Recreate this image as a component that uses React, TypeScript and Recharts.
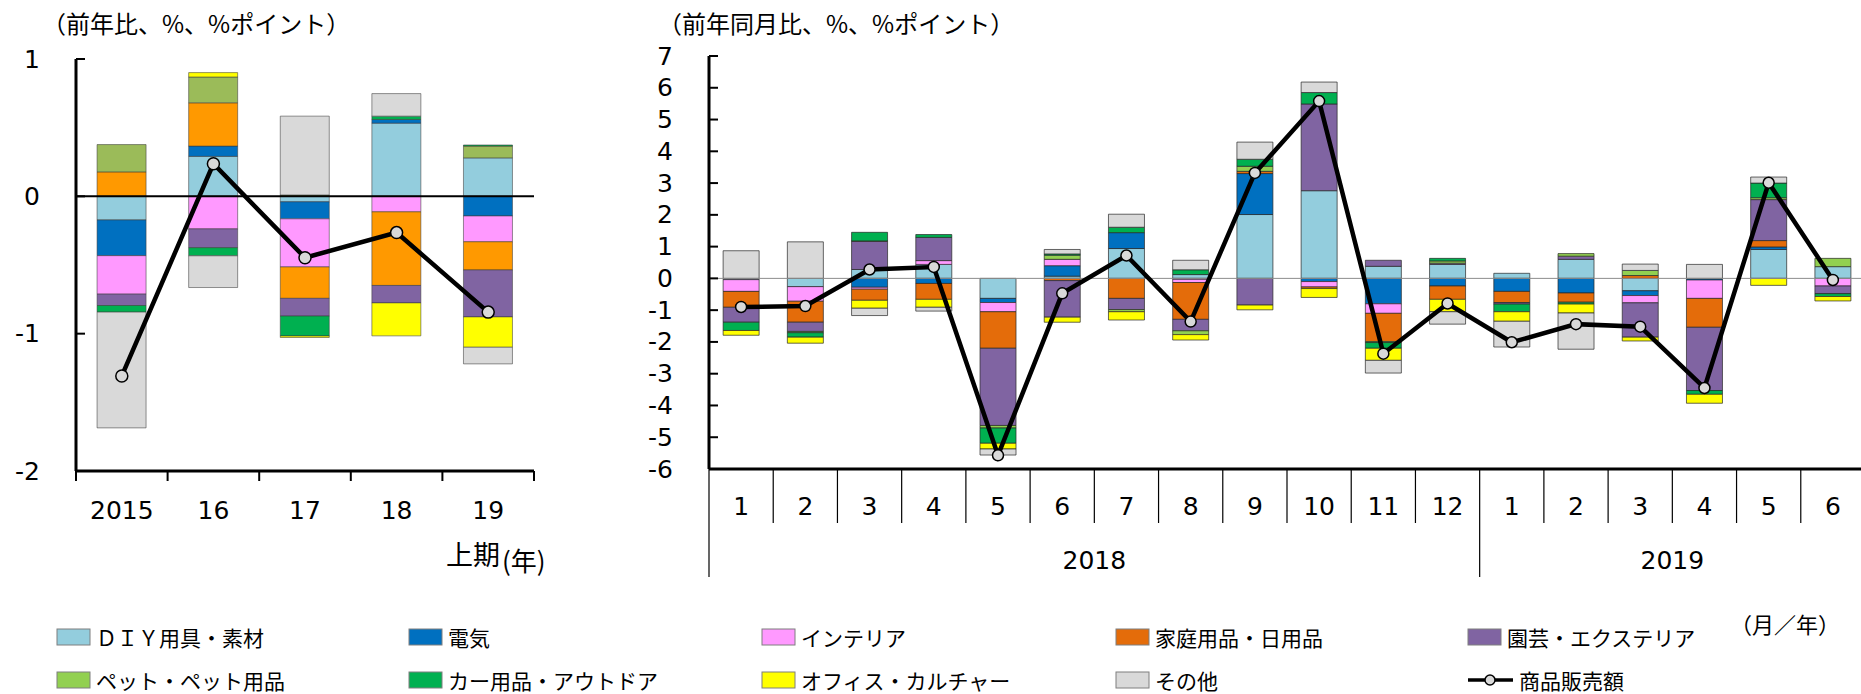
import React from 'react';
import { ComposedChart, Bar, Line, XAxis, YAxis, ReferenceLine } from 'recharts';

// ---------- series definitions ----------
const seriesNames = ['ＤＩＹ用具・素材', '電気', 'インテリア', '家庭用品・日用品', '園芸・エクステリア', 'ペット・ペット用品', 'カー用品・アウトドア', 'オフィス・カルチャー', 'その他'];
const seriesKeys = ['diy', 'denki', 'interior', 'katei', 'engei', 'pet', 'car', 'office', 'other'];
const colorsRight = ['#93CDDD', '#0070C0', '#FF99FF', '#E46C0A', '#8064A2', '#92D050', '#00B050', '#FFFF00', '#D9D9D9'];
const colorsLeft = ['#93CDDD', '#0070C0', '#FF99FF', '#FF9900', '#8064A2', '#9BBB59', '#00B050', '#FFFF00', '#D9D9D9'];
const lineName = '商品販売額';

// ---------- left chart (half-year) ----------
const halfYears = ['2015', '16', '17', '18', '19'];
const hDiy = [-0.172, 0.291, -0.04, 0.533, 0.28];
const hDenki = [-0.26, 0.075, -0.124, 0.027, -0.143];
const hInterior = [-0.28, -0.237, -0.35, -0.113, -0.188];
const hKatei = [0.178, 0.315, -0.229, -0.536, -0.205];
const hEngei = [-0.083, -0.137, -0.129, -0.127, -0.342];
const hPet = [0.199, 0.188, 0.01, 0, 0.086];
const hCar = [-0.048, -0.059, -0.145, 0.024, 0.008];
const hOffice = [0, 0.032, -0.011, -0.24, -0.221];
const hOther = [-0.843, -0.231, 0.574, 0.164, -0.121];
const hTotal = [-1.308, 0.237, -0.447, -0.264, -0.843];

// ---------- right chart (monthly) ----------
const months = ['1', '2', '3', '4', '5', '6', '7', '8', '9', '10', '11', '12', '1', '2', '3', '4', '5', '6'];
const monthYears = ['2018', '2018', '2018', '2018', '2018', '2018', '2018', '2018', '2018', '2018', '2018', '2018', '2019', '2019', '2019', '2019', '2019', '2019'];
const mDiy = [-0.04, -0.26, 0.28, 0.44, -0.63, 0.07, 0.94, 0.12, 2.01, 2.76, 0.38, 0.44, 0.16, 0.60, -0.39, 0, 0.91, 0.37];
const mDenki = [0, 0, -0.28, -0.16, -0.13, 0.33, 0.50, -0.03, 1.29, -0.10, -0.80, -0.24, -0.41, -0.46, -0.15, -0.05, 0.08, 0];
const mInterior = [-0.37, -0.46, -0.06, 0.12, -0.29, 0.20, 0, -0.10, 0, -0.17, -0.30, 0, 0, 0, -0.23, -0.58, 0, -0.24];
const mKatei = [-0.50, -0.66, -0.35, -0.50, -1.15, -0.07, -0.63, -1.16, 0.07, -0.05, -0.89, -0.42, -0.35, -0.29, 0.09, -0.91, 0.20, 0];
const mEngei = [-0.47, -0.29, 0.89, 0.73, -2.43, -1.15, -0.35, -0.36, -0.84, 2.73, 0.19, 0.04, -0.05, 0.10, -1.08, -1.99, 1.29, -0.24];
const mPet = [0, -0.04, 0.01, 0, -0.08, 0.13, -0.07, -0.12, 0.16, 0, -0.03, 0.07, 0, 0.08, 0.16, 0, 0.06, 0.26];
const mCar = [-0.26, -0.14, 0.27, 0.09, -0.48, 0.04, 0.17, 0.15, 0.22, 0.36, -0.18, 0.08, -0.24, -0.06, 0, -0.12, 0.46, -0.09];
const mOffice = [-0.15, -0.19, -0.25, -0.25, -0.18, -0.16, -0.26, -0.17, -0.15, -0.28, -0.38, -0.39, -0.30, -0.28, -0.12, -0.28, -0.22, -0.14];
const mOther = [0.87, 1.15, -0.23, -0.12, -0.19, 0.14, 0.41, 0.30, 0.54, 0.33, -0.40, -0.39, -0.81, -1.14, 0.20, 0.44, 0.19, 0];
const mTotal = [-0.90, -0.87, 0.28, 0.36, -5.57, -0.47, 0.72, -1.36, 3.32, 5.58, -2.37, -0.79, -2.01, -1.44, -1.52, -3.45, 3.01, -0.05];

const leftTicks = [-2, -1, 0, 1];
const rightTicks = [-6, -5, -4, -3, -2, -1, 0, 1, 2, 3, 4, 5, 6, 7];

const leftData = halfYears.map((c, i) => ({
  cat: c, diy: hDiy[i], denki: hDenki[i], interior: hInterior[i], katei: hKatei[i], engei: hEngei[i],
  pet: hPet[i], car: hCar[i], office: hOffice[i], other: hOther[i], total: hTotal[i],
}));
const rightData = months.map((c, i) => ({
  cat: c, idx: i, diy: mDiy[i], denki: mDenki[i], interior: mInterior[i], katei: mKatei[i], engei: mEngei[i],
  pet: mPet[i], car: mCar[i], office: mOffice[i], other: mOther[i], total: mTotal[i],
}));

// ---------- layout ----------
const NUM_FONT = "'DejaVu Sans', 'Noto Sans CJK JP', sans-serif";
const JP_FONT = "'Noto Sans CJK JP', 'DejaVu Sans', sans-serif";

const L = { left: 76, right: 534, top: 59, bottom: 471, width: 560, height: 600 };
const R = { offset: 620, left: 709, right: 1865, top: 56, bottom: 469, height: 600 };
const L_BAND = (L.right - L.left) / halfYears.length;
const R_BAND = (R.right - R.left) / months.length;

const YTick = (props: any) => {
  const { x, y, payload } = props;
  return (
    <g>
      <line x1={x} x2={x + 9} y1={y} y2={y} stroke="#000" strokeWidth={2} />
      <text x={x - 36} y={y} textAnchor="end" dominantBaseline="central" fontFamily={NUM_FONT} fontSize={25} fill="#000">
        {payload.value}
      </text>
    </g>
  );
};

const LeftXTick = (props: any) => {
  const { x, y, payload, index } = props;
  const last = index === halfYears.length - 1;
  return (
    <g>
      <line x1={x - L_BAND / 2} x2={x - L_BAND / 2} y1={y} y2={y + 10} stroke="#000" strokeWidth={2} />
      {last && <line x1={x + L_BAND / 2} x2={x + L_BAND / 2} y1={y} y2={y + 10} stroke="#000" strokeWidth={2} />}
      <text x={x} y={y + 39} textAnchor="middle" dominantBaseline="central" fontFamily={NUM_FONT} fontSize={25} fill="#000">
        {payload.value}
      </text>
    </g>
  );
};

const RightXTick = (props: any) => {
  const { x, y, payload } = props;
  const index = Number(payload.value);
  const left = x - R_BAND / 2;
  const yearStart = index === 0 || monthYears[index] !== monthYears[index - 1];
  const count = monthYears.filter((v) => v === monthYears[index]).length;
  const last = index === months.length - 1;
  return (
    <g>
      <line x1={left} x2={left} y1={y} y2={y + (yearStart ? 108 : 54)} stroke="#000" strokeWidth={1.2} />
      {last && <line x1={x + R_BAND / 2} x2={x + R_BAND / 2} y1={y} y2={y + 108} stroke="#000" strokeWidth={1.2} />}
      <text x={x} y={y + 37} textAnchor="middle" dominantBaseline="central" fontFamily={NUM_FONT} fontSize={25} fill="#000">
        {months[index]}
      </text>
      {yearStart && (
        <text x={left + (count * R_BAND) / 2} y={y + 91} textAnchor="middle" dominantBaseline="central" fontFamily={NUM_FONT} fontSize={25} fill="#000">
          {monthYears[index]}
        </text>
      )}
    </g>
  );
};

const renderBars = (colors: string[], stroke: string) =>
  seriesKeys.map((k, i) => (
    <Bar key={k} dataKey={k} name={seriesNames[i]} stackId="s" fill={colors[i]} stroke={stroke} strokeWidth={1} isAnimationActive={false} />
  ));

const LeftChart = () => (
  <ComposedChart
    width={L.width}
    height={L.height}
    data={leftData}
    stackOffset="sign"
    barCategoryGap="23%"
    margin={{ top: L.top, right: L.width - L.right, bottom: L.height - L.bottom - 40, left: 0 }}
  >
    <XAxis dataKey="cat" height={40} axisLine={{ stroke: '#000', strokeWidth: 3 }} tickLine={false} tickSize={0} tickMargin={0} tick={<LeftXTick />} interval={0} />
    <YAxis width={L.left} domain={[-2, 1]} ticks={leftTicks} type="number" axisLine={{ stroke: '#000', strokeWidth: 3 }} tickLine={false} tickSize={0} tickMargin={0} tick={<YTick />} />
    {renderBars(colorsLeft, 'rgba(60,60,60,0.55)')}
    <ReferenceLine y={0} stroke="#000" strokeWidth={2} />
    <Line dataKey="total" name={lineName} type="linear" stroke="#000" strokeWidth={4.5} isAnimationActive={false}
      dot={{ r: 6, fill: '#D9D9D9', stroke: '#000', strokeWidth: 1.5 }} activeDot={false} />
  </ComposedChart>
);

const RightChart = () => (
  <ComposedChart
    width={R.right - R.offset}
    height={R.height}
    data={rightData}
    stackOffset="sign"
    barCategoryGap="22%"
    margin={{ top: R.top, right: 0, bottom: R.height - R.bottom - 40, left: 0 }}
  >
    <XAxis dataKey="idx" height={40} axisLine={{ stroke: '#000', strokeWidth: 3 }} tickLine={false} tickSize={0} tickMargin={0}
      tick={<RightXTick />} interval={0} />
    <YAxis width={R.left - R.offset} domain={[-6, 7]} ticks={rightTicks} type="number" axisLine={{ stroke: '#000', strokeWidth: 3 }} tickLine={false} tickSize={0} tickMargin={0} tick={<YTick />} interval={0} />
    <ReferenceLine y={0} stroke="#8c8c8c" strokeWidth={1} />
    {renderBars(colorsRight, 'rgba(40,40,40,0.7)')}
    <Line dataKey="total" name={lineName} type="linear" stroke="#000" strokeWidth={4.5} isAnimationActive={false}
      dot={{ r: 5.5, fill: '#D9D9D9', stroke: '#000', strokeWidth: 1.5 }} activeDot={false} />
  </ComposedChart>
);

const legendCols = [57, 409, 762, 1116, 1468];
const legendRows = [637, 680];

const LegendSvg = () => {
  const items = seriesNames.map((n, i) => ({ name: n, color: colorsRight[i], col: i < 5 ? i : i - 5, row: i < 5 ? 0 : 1 }));
  return (
    <svg width={1861} height={694} style={{ position: 'absolute', left: 0, top: 0, pointerEvents: 'none' }}>
      {items.map((it) => {
        const x = legendCols[it.col];
        const y = legendRows[it.row];
        return (
          <g key={it.name}>
            <rect x={x} y={y - 8} width={33} height={16} fill={it.color} stroke="#7f7f7f" strokeWidth={1} />
            <text x={x + 39} y={y} dominantBaseline="central" fontFamily={JP_FONT} fontSize={21} fill="#000">{it.name}</text>
          </g>
        );
      })}
      <g>
        <line x1={legendCols[4]} x2={legendCols[4] + 45} y1={legendRows[1]} y2={legendRows[1]} stroke="#000" strokeWidth={3.5} />
        <circle cx={legendCols[4] + 22} cy={legendRows[1]} r={5} fill="#D9D9D9" stroke="#000" strokeWidth={1.5} />
        <text x={legendCols[4] + 51} y={legendRows[1]} dominantBaseline="central" fontFamily={JP_FONT} fontSize={21} fill="#000">{lineName}</text>
      </g>
      {/* titles and unit labels */}
      <text x={42} y={22} dominantBaseline="central" fontFamily={JP_FONT} fontSize={24} fill="#000">（前年比、%、%ポイント）</text>
      <text x={658} y={22} dominantBaseline="central" fontFamily={JP_FONT} fontSize={24} fill="#000">（前年同月比、%、%ポイント）</text>
      <text x={446} y={553} dominantBaseline="central" fontFamily={JP_FONT} fontSize={27} fill="#000">上期</text>
      <text x={502} y={559} dominantBaseline="central" fontFamily={JP_FONT} fontSize={26} fill="#000">(年)</text>
      <text x={1840} y={623} textAnchor="end" dominantBaseline="central" fontFamily={JP_FONT} fontSize={22} fill="#000">（月／年）</text>
    </svg>
  );
};

export default function App() {
  return (
    <div style={{ position: 'fixed', left: 0, top: 0, width: 1861, height: 694, overflow: 'hidden', background: '#fff' }}>
      <div style={{ position: 'absolute', left: 0, top: 0 }}>
        <LeftChart />
      </div>
      <div style={{ position: 'absolute', left: R.offset, top: 0 }}>
        <RightChart />
      </div>
      <LegendSvg />
    </div>
  );
}
